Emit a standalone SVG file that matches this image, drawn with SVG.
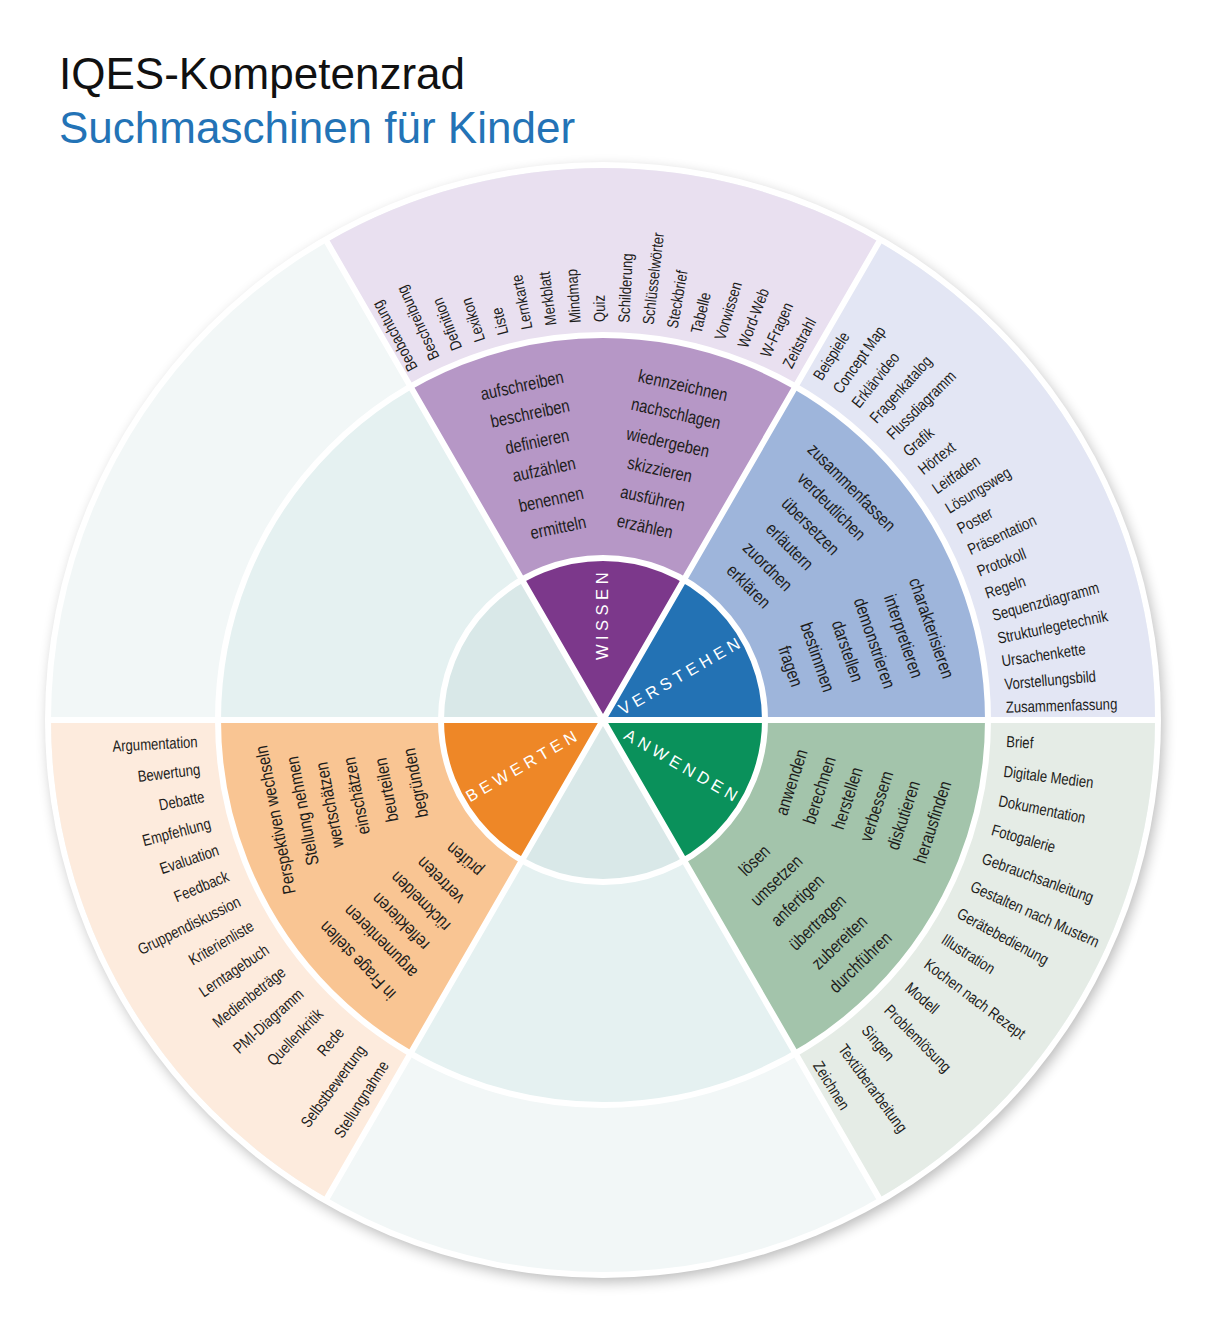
<svg xmlns="http://www.w3.org/2000/svg" width="1207" height="1328" viewBox="0 0 1207 1328">
<defs>
<filter id="sh" x="-10%" y="-10%" width="120%" height="120%"><feGaussianBlur stdDeviation="7"/></filter>
<style>
text{font-family:"Liberation Sans",Arial,Helvetica,sans-serif;fill:#1d1d1b;dominant-baseline:central}
.o{font-size:16px}
.oe{font-size:16px;text-anchor:end}
.m{font-size:18px;text-anchor:middle}
.h{font-size:16.5px;fill:#fff;text-anchor:middle;letter-spacing:4.5px}
.sep{stroke:#fff;stroke-width:6;fill:none}
.t1{font-size:44px;dominant-baseline:auto;fill:#111}
.t2{font-size:44px;dominant-baseline:auto;fill:#2373b6}
</style>
</defs>
<rect width="1207" height="1328" fill="#fff"/>
<g id="title">
<text class="t1" x="59" y="89">IQES-Kompetenzrad</text>
<text class="t2" x="59" y="143">Suchmaschinen für Kinder</text>
</g>
<g id="wheel-base">
<circle cx="606" cy="725" r="557" fill="#000" opacity=".28" filter="url(#sh)"/>
<circle cx="603" cy="720" r="558" fill="#fff"/>
<circle cx="603" cy="720" r="552" fill="#F2F7F7"/>
<circle cx="603" cy="720" r="385" fill="#E5F1F1"/>
<circle cx="603" cy="720" r="162" fill="#D9E8E8"/>
</g>
<g id="wissen">
<path d="M879,242 A552,552 0 0 0 327,242 L410.5,386.6 A385,385 0 0 1 795.5,386.6 Z" fill="#E9E0F0"/>
<path d="M795.5,386.6 A385,385 0 0 0 410.5,386.6 L522,579.7 A162,162 0 0 1 684,579.7 Z" fill="#B697C6"/>
<path d="M684,579.7 A162,162 0 0 0 522,579.7 L603,720 Z" fill="#7C388B"/>
</g>
<g id="verstehen">
<path d="M1155,720 A552,552 0 0 0 879,242 L795.5,386.6 A385,385 0 0 1 988,720 Z" fill="#E3E6F4"/>
<path d="M988,720 A385,385 0 0 0 795.5,386.6 L684,579.7 A162,162 0 0 1 765,720 Z" fill="#9EB5DB"/>
<path d="M765,720 A162,162 0 0 0 684,579.7 L603,720 Z" fill="#2372B4"/>
</g>
<g id="anwenden">
<path d="M879,1198 A552,552 0 0 0 1155,720 L988,720 A385,385 0 0 1 795.5,1053.4 Z" fill="#E5ECE6"/>
<path d="M795.5,1053.4 A385,385 0 0 0 988,720 L765,720 A162,162 0 0 1 684,860.3 Z" fill="#A3C4AB"/>
<path d="M684,860.3 A162,162 0 0 0 765,720 L603,720 Z" fill="#0A915B"/>
</g>
<g id="bewerten">
<path d="M51,720 A552,552 0 0 0 327,1198 L410.5,1053.4 A385,385 0 0 1 218,720 Z" fill="#FDEBDD"/>
<path d="M218,720 A385,385 0 0 0 410.5,1053.4 L522,860.3 A162,162 0 0 1 441,720 Z" fill="#F9C593"/>
<path d="M441,720 A162,162 0 0 0 522,860.3 L603,720 Z" fill="#EE8727"/>
</g>
<g id="separators">
<circle class="sep" cx="603" cy="720" r="385"/>
<circle class="sep" cx="603" cy="720" r="162"/>
<path class="sep" d="M47,720 H1159 M325,238.5 L881,1201.5 M881,238.5 L325,1201.5"/>
</g>
<g id="hub-labels">
<text class="h" transform="translate(602 614) rotate(-90)">WISSEN</text>
<text class="h" transform="translate(681 675) rotate(-30)">VERSTEHEN</text>
<text class="h" transform="translate(683 766) rotate(30)">ANWENDEN</text>
<text class="h" transform="translate(523 765) rotate(-30)">BEWERTEN</text>
</g>
<g id="wissen-texts">
<text class="m" transform="translate(522 385) rotate(-12) scale(.82 1)">aufschreiben</text>
<text class="m" transform="translate(530 413) rotate(-12) scale(.82 1)">beschreiben</text>
<text class="m" transform="translate(537 441) rotate(-12) scale(.82 1)">definieren</text>
<text class="m" transform="translate(544 469) rotate(-12) scale(.82 1)">aufzählen</text>
<text class="m" transform="translate(551 499) rotate(-12) scale(.82 1)">benennen</text>
<text class="m" transform="translate(558 527) rotate(-12) scale(.82 1)">ermitteln</text>
<text class="m" transform="translate(683 385) rotate(12.5) scale(.82 1)">kennzeichnen</text>
<text class="m" transform="translate(676 413) rotate(12.5) scale(.82 1)">nachschlagen</text>
<text class="m" transform="translate(668 442) rotate(12.5) scale(.82 1)">wiedergeben</text>
<text class="m" transform="translate(660 469) rotate(12.5) scale(.82 1)">skizzieren</text>
<text class="m" transform="translate(653 498) rotate(12.5) scale(.82 1)">ausführen</text>
<text class="m" transform="translate(645 526) rotate(12.5) scale(.82 1)">erzählen</text>
<text class="o" transform="translate(413.1 370.2) rotate(-118.5) scale(.82 1)">Beobachtung</text>
<text class="o" transform="translate(434.8 359.3) rotate(-115) scale(.82 1)">Beschreibung</text>
<text class="o" transform="translate(457.1 349.7) rotate(-111.5) scale(.82 1)">Definition</text>
<text class="o" transform="translate(480 341.5) rotate(-108) scale(.82 1)">Lexikon</text>
<text class="o" transform="translate(503.3 334.7) rotate(-104.5) scale(.82 1)">Liste</text>
<text class="o" transform="translate(527.1 329.3) rotate(-101) scale(.82 1)">Lernkarte</text>
<text class="o" transform="translate(551.1 325.4) rotate(-97.5) scale(.82 1)">Merkblatt</text>
<text class="o" transform="translate(575.2 323) rotate(-94) scale(.82 1)">Mindmap</text>
<text class="o" transform="translate(599.5 322) rotate(-90.5) scale(.82 1)">Quiz</text>
<text class="o" transform="translate(623.8 322.6) rotate(-87) scale(.82 1)">Schilderung</text>
<text class="o" transform="translate(648.1 324.5) rotate(-83.5) scale(.82 1)">Schlüsselwörter</text>
<text class="o" transform="translate(672.1 328) rotate(-80) scale(.82 1)">Steckbrief</text>
<text class="o" transform="translate(695.9 333) rotate(-76.5) scale(.82 1)">Tabelle</text>
<text class="o" transform="translate(719.4 339.4) rotate(-73) scale(.82 1)">Vorwissen</text>
<text class="o" transform="translate(742.4 347.2) rotate(-69.5) scale(.82 1)">Word-Web</text>
<text class="o" transform="translate(764.9 356.4) rotate(-66) scale(.82 1)">W-Fragen</text>
<text class="o" transform="translate(786.8 367) rotate(-62.5) scale(.82 1)">Zeitstrahl</text>
</g>
<g id="verstehen-texts">
<text class="m" transform="translate(852 487) rotate(45) scale(.82 1)">zusammenfassen</text>
<text class="m" transform="translate(832 506) rotate(45) scale(.82 1)">verdeutlichen</text>
<text class="m" transform="translate(811 526) rotate(45) scale(.82 1)">übersetzen</text>
<text class="m" transform="translate(790 546) rotate(45) scale(.82 1)">erläutern</text>
<text class="m" transform="translate(768 566) rotate(45) scale(.82 1)">zuordnen</text>
<text class="m" transform="translate(749 586) rotate(45) scale(.82 1)">erklären</text>
<text class="m" transform="translate(932 628) rotate(71) scale(.82 1)">charakterisieren</text>
<text class="m" transform="translate(904 636) rotate(71) scale(.82 1)">interpretieren</text>
<text class="m" transform="translate(875 643) rotate(71) scale(.82 1)">demonstrieren</text>
<text class="m" transform="translate(848 651) rotate(71) scale(.82 1)">darstellen</text>
<text class="m" transform="translate(818 657) rotate(71) scale(.82 1)">bestimmen</text>
<text class="m" transform="translate(791 666) rotate(71) scale(.82 1)">fragen</text>
<text class="o" transform="translate(817.2 378.6) rotate(-57.9) scale(.82 1)">Beispiele</text>
<text class="o" transform="translate(836.5 391.5) rotate(-54.6) scale(.82 1)">Concept Map</text>
<text class="o" transform="translate(855 405.5) rotate(-51.3) scale(.82 1)">Erklärvideo</text>
<text class="o" transform="translate(872.7 420.5) rotate(-48) scale(.82 1)">Fragenkatalog</text>
<text class="o" transform="translate(889.5 436.5) rotate(-44.7) scale(.82 1)">Flussdiagramm</text>
<text class="o" transform="translate(905.3 453.5) rotate(-41.4) scale(.82 1)">Grafik</text>
<text class="o" transform="translate(920.1 471.3) rotate(-38.1) scale(.82 1)">Hörtext</text>
<text class="o" transform="translate(933.9 490) rotate(-34.8) scale(.82 1)">Leitfaden</text>
<text class="o" transform="translate(946.6 509.4) rotate(-31.5) scale(.82 1)">Lösungsweg</text>
<text class="o" transform="translate(958.2 529.5) rotate(-28.2) scale(.82 1)">Poster</text>
<text class="o" transform="translate(968.5 550.3) rotate(-24.9) scale(.82 1)">Präsentation</text>
<text class="o" transform="translate(977.7 571.7) rotate(-21.6) scale(.82 1)">Protokoll</text>
<text class="o" transform="translate(985.6 593.5) rotate(-18.3) scale(.82 1)">Regeln</text>
<text class="o" transform="translate(992.3 615.7) rotate(-15) scale(.82 1)">Sequenzdiagramm</text>
<text class="o" transform="translate(997.6 638.3) rotate(-11.7) scale(.82 1)">Strukturlegetechnik</text>
<text class="o" transform="translate(1001.7 661.1) rotate(-8.4) scale(.82 1)">Ursachenkette</text>
<text class="o" transform="translate(1004.4 684.2) rotate(-5.1) scale(.82 1)">Vorstellungsbild</text>
<text class="o" transform="translate(1005.8 707.3) rotate(-1.8) scale(.82 1)">Zusammenfassung</text>
</g>
<g id="anwenden-texts">
<text class="m" transform="translate(791 782) rotate(-72) scale(.82 1)">anwenden</text>
<text class="m" transform="translate(819 790) rotate(-72) scale(.82 1)">berechnen</text>
<text class="m" transform="translate(847 798) rotate(-72) scale(.82 1)">herstellen</text>
<text class="m" transform="translate(876 806) rotate(-72) scale(.82 1)">verbessern</text>
<text class="m" transform="translate(903 815) rotate(-72) scale(.82 1)">diskutieren</text>
<text class="m" transform="translate(932 822) rotate(-72) scale(.82 1)">herausfinden</text>
<text class="m" transform="translate(754 860) rotate(-44) scale(.82 1)">lösen</text>
<text class="m" transform="translate(776 880) rotate(-44) scale(.82 1)">umsetzen</text>
<text class="m" transform="translate(797 900) rotate(-44) scale(.82 1)">anfertigen</text>
<text class="m" transform="translate(817 922) rotate(-44) scale(.82 1)">übertragen</text>
<text class="m" transform="translate(839 942) rotate(-44) scale(.82 1)">zubereiten</text>
<text class="m" transform="translate(860 962) rotate(-44) scale(.82 1)">durchführen</text>
<text class="o" transform="translate(1006.4 741.6) rotate(3.06) scale(.82 1)">Brief</text>
<text class="o" transform="translate(1003.7 771.3) rotate(7.29) scale(.82 1)">Digitale Medien</text>
<text class="o" transform="translate(998.9 800.6) rotate(11.51) scale(.82 1)">Dokumentation</text>
<text class="o" transform="translate(991.9 829.6) rotate(15.74) scale(.82 1)">Fotogalerie</text>
<text class="o" transform="translate(982.7 857.9) rotate(19.96) scale(.82 1)">Gebrauchsanleitung</text>
<text class="o" transform="translate(971.5 885.6) rotate(24.19) scale(.82 1)">Gestalten nach Mustern</text>
<text class="o" transform="translate(958.3 912.3) rotate(28.42) scale(.82 1)">Gerätebedienung</text>
<text class="o" transform="translate(943.2 937.9) rotate(32.64) scale(.82 1)">Illustration</text>
<text class="o" transform="translate(926.2 962.4) rotate(36.87) scale(.82 1)">Kochen nach Rezept</text>
<text class="o" transform="translate(907.5 985.5) rotate(41.09) scale(.82 1)">Modell</text>
<text class="o" transform="translate(887.1 1007.3) rotate(45.32) scale(.82 1)">Problemlösung</text>
<text class="o" transform="translate(865 1027.5) rotate(49.55) scale(.82 1)">Singen</text>
<text class="o" transform="translate(841.8 1045.9) rotate(53.77) scale(.82 1)">Textüberarbeitung</text>
<text class="o" transform="translate(817.1 1062.6) rotate(58) scale(.82 1)">Zeichnen</text>
</g>
<g id="bewerten-texts">
<text class="m" transform="translate(275 820) rotate(-101) scale(.82 1)">Perspektiven wechseln</text>
<text class="m" transform="translate(302 811) rotate(-101) scale(.82 1)">Stellung nehmen</text>
<text class="m" transform="translate(329 805) rotate(-101) scale(.82 1)">wertschätzen</text>
<text class="m" transform="translate(356 796) rotate(-101) scale(.82 1)">einschätzen</text>
<text class="m" transform="translate(386 790) rotate(-101) scale(.82 1)">beurteilen</text>
<text class="m" transform="translate(415 783) rotate(-101) scale(.82 1)">begründen</text>
<text class="m" transform="translate(357 961) rotate(-134) scale(.82 1)">in Frage stellen</text>
<text class="m" transform="translate(380 942) rotate(-135) scale(.82 1)">argumentieren</text>
<text class="m" transform="translate(400 922) rotate(-135) scale(.82 1)">reflektieren</text>
<text class="m" transform="translate(420 902) rotate(-135) scale(.82 1)">rückmelden</text>
<text class="m" transform="translate(440 881) rotate(-135) scale(.82 1)">vertreten</text>
<text class="m" transform="translate(464 860) rotate(-139) scale(.82 1)">prüfen</text>
<text class="oe" transform="translate(197.6 741.7) rotate(-3.06) scale(.82 1)">Argumentation</text>
<text class="oe" transform="translate(200 769.1) rotate(-6.95) scale(.82 1)">Bewertung</text>
<text class="oe" transform="translate(204.2 796.4) rotate(-10.84) scale(.82 1)">Debatte</text>
<text class="oe" transform="translate(210.3 823.2) rotate(-14.73) scale(.82 1)">Empfehlung</text>
<text class="oe" transform="translate(218.3 849.6) rotate(-18.62) scale(.82 1)">Evaluation</text>
<text class="oe" transform="translate(227.9 875.4) rotate(-22.51) scale(.82 1)">Feedback</text>
<text class="oe" transform="translate(239.3 900.5) rotate(-26.39) scale(.82 1)">Gruppendiskussion</text>
<text class="oe" transform="translate(252.4 924.7) rotate(-30.28) scale(.82 1)">Kriterienliste</text>
<text class="oe" transform="translate(267.1 948.1) rotate(-34.17) scale(.82 1)">Lerntagebuch</text>
<text class="oe" transform="translate(283.4 970.3) rotate(-38.06) scale(.82 1)">Medienbeträge</text>
<text class="oe" transform="translate(301.1 991.5) rotate(-41.95) scale(.82 1)">PMI-Diagramm</text>
<text class="oe" transform="translate(320.1 1011.2) rotate(-45.84) scale(.82 1)">Quellenkritik</text>
<text class="oe" transform="translate(340.7 1029.9) rotate(-49.73) scale(.82 1)">Rede</text>
<text class="oe" transform="translate(362.2 1046.9) rotate(-53.62) scale(.82 1)">Selbstbewertung</text>
<text class="oe" transform="translate(384.9 1062.4) rotate(-57.5) scale(.82 1)">Stellungnahme</text>
</g>
</svg>
